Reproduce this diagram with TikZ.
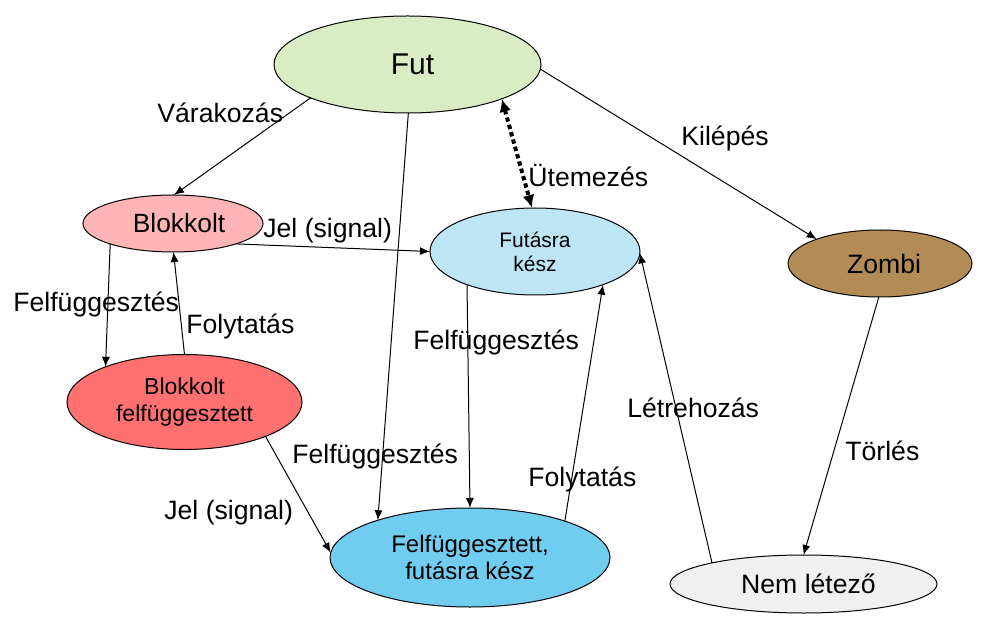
\documentclass[tikz,border=0pt]{standalone}
\usepackage{fontspec}
\setmainfont{Liberation Sans}
\usetikzlibrary{shapes.geometric,arrows.meta}
\definecolor{cfut}{RGB}{217,237,197}
\definecolor{cblk}{RGB}{255,181,181}
\definecolor{cbf}{RGB}{255,112,112}
\definecolor{cfk}{RGB}{189,229,246}
\definecolor{cffk}{RGB}{112,205,240}
\definecolor{czom}{RGB}{179,140,85}
\definecolor{cnem}{RGB}{240,240,240}
\begin{document}
\begin{tikzpicture}[x=0.5pt,y=-0.5pt,
  stnode/.style={ellipse, draw, line width=0.5pt, inner sep=0pt, outer sep=0pt, align=center},
  lbl/.style={font=\fontsize{13.3}{16}\selectfont, inner sep=0pt, anchor=base west},
  arr/.style={line width=0.5pt, -{Latex[length=5pt,width=4pt]}},
  dotarr/.style={line width=2pt, dash pattern=on 2.2pt off 1.6pt, {Latex[length=6.5pt,width=6pt]}-{Latex[length=6.5pt,width=6pt]}}]
\useasboundingbox (0,0) rectangle (984,625);
% nodes
\node[stnode, fill=cfut, minimum width=133.5pt, minimum height=48.5pt, font=\fontsize{15}{18}\selectfont] (fut) at (407.5,64.5) {\hspace*{5pt}Fut};
\node[stnode, fill=cblk, minimum width=90pt, minimum height=28.5pt, font=\fontsize{13.2}{16}\selectfont] (blk) at (173,223.5) {\hspace*{6pt}Blokkolt};
\node[stnode, fill=cbf, minimum width=117.5pt, minimum height=47.5pt, font=\fontsize{11.5}{13.5}\selectfont] (bf) at (184.5,402) {Blokkolt\\felfüggesztett};
\node[stnode, fill=cfk, minimum width=105pt, minimum height=43.5pt, font=\fontsize{10.5}{12}\selectfont] (fk) at (535,251.5) {Futásra\\kész};
\node[stnode, fill=cffk, minimum width=140pt, minimum height=49.5pt, font=\fontsize{12}{13.3}\selectfont] (ffk) at (470,557.5) {Felfüggesztett,\\futásra kész};
\node[stnode, fill=czom, minimum width=92pt, minimum height=33.5pt, font=\fontsize{13.3}{16}\selectfont] (zom) at (880,263.5) {\hspace*{4pt}Zombi};
\node[stnode, fill=cnem, minimum width=133.5pt, minimum height=29pt, font=\fontsize{13.3}{16}\selectfont] (nem) at (803.5,584) {\hspace*{5pt}Nem létező};
% connectors
\draw[arr] (fut.199) -- (blk.88);
\draw[arr] (fut.271) -- (ffk.158);
\draw[dotarr] (fut.340) -- (fk.94);
\draw[arr] (fut.358.5) -- (zom.159.5);
\draw[arr] (blk.342.6) -- (fk.180);
\draw[arr] (blk.198.4) -- (bf.156);
\draw[arr] (bf.90) -- (blk.271.8);
\draw[arr] (bf.337.3) -- (ffk.178.3);
\draw[arr] (fk.206) -- (ffk.90);
\draw[arr] (ffk.21.6) -- (fk.334.4);
\draw[arr] (nem.167.6) -- (fk.359);
\draw[arr] (zom.268) -- (nem.90);
% labels
\node[lbl] (l1) at (157,123) {Várakozás};
\node[lbl] (l2) at (681,146) {Kilépés};
\node[lbl] (l3) at (528,187) {Ütemezés};
\node[lbl] (l4) at (263,238) {Jel (signal)};
\node[lbl] (l5) at (13,312) {Felfüggesztés};
\node[lbl] (l6) at (186,334) {Folytatás};
\node[lbl] (l7) at (413,350) {Felfüggesztés};
\node[lbl] (l8) at (292,463) {Felfüggesztés};
\node[lbl] (l9) at (528,486) {Folytatás};
\node[lbl] (l10) at (627,417) {Létrehozás};
\node[lbl] (l11) at (845,460) {Törlés};
\node[lbl] (l12) at (164,519) {Jel (signal)};
\end{tikzpicture}
\end{document}
